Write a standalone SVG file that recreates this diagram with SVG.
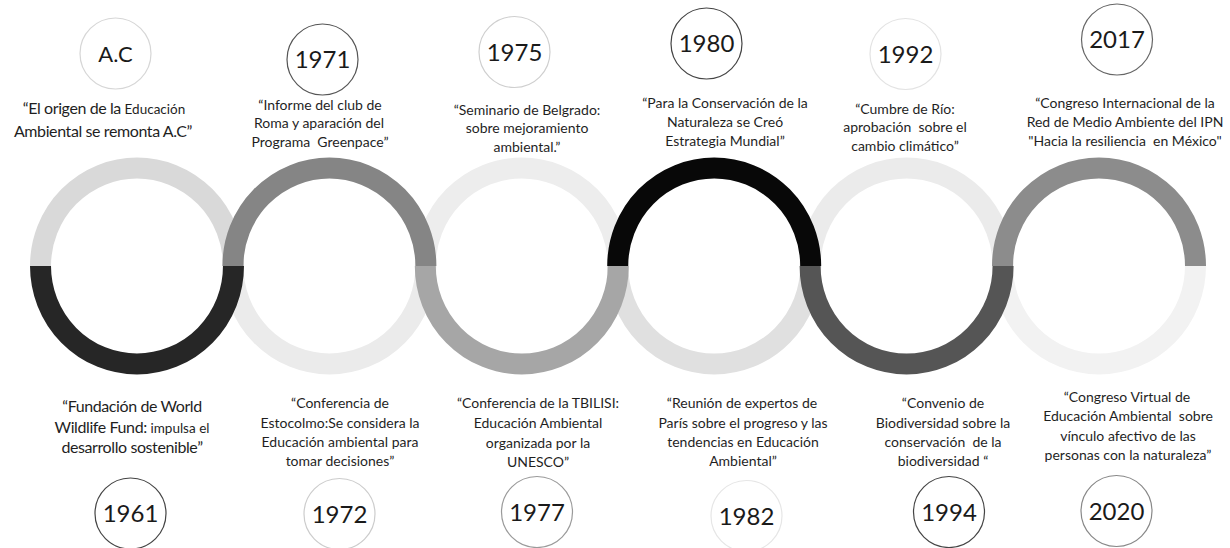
<svg xmlns="http://www.w3.org/2000/svg" width="1230" height="548" viewBox="0 0 1230 548">
<style>
.bg{fill:#ffffff}
.ring{fill:none;stroke-width:21;stroke-linecap:butt}
.dc{fill:#ffffff;stroke-width:1.2}
text{white-space:pre}
.yr{font-family:Lato,"Liberation Sans",sans-serif;font-size:24px;fill:#1a1a1a;text-anchor:middle}
.ac{font-size:22px}
.ds{font-family:Lato,"Liberation Sans",sans-serif;font-size:14px;fill:#1f1f1f;text-anchor:middle}
.dl{font-family:Lato,"Liberation Sans",sans-serif;font-size:16px;fill:#1f1f1f;text-anchor:middle;letter-spacing:-0.4px}
.sm{font-size:13.5px;letter-spacing:0}
</style>
<rect class="bg" x="0" y="0" width="1230" height="548"/>
<g id="connectors">
  <path class="ring" stroke="#d9d9d9" d="M40.5,266 A96.5,98 0 0 1 233.5,266"/>
  <path class="ring" stroke="#ebebeb" d="M232.9,266 A96.5,98 0 0 0 425.9,266"/>
  <path class="ring" stroke="#ededed" d="M425.3,266 A96.5,98 0 0 1 618.3,266"/>
  <path class="ring" stroke="#e0e0e0" d="M617.7,266 A96.5,98 0 0 0 810.7,266"/>
  <path class="ring" stroke="#ebebeb" d="M810.1,266 A96.5,98 0 0 1 1003.1,266"/>
  <path class="ring" stroke="#f2f2f2" d="M1002.5,266 A96.5,98 0 0 0 1195.5,266"/>
  <path class="ring" stroke="#262626" d="M40.5,266 A96.5,98 0 0 0 233.5,266"/>
  <path class="ring" stroke="#858585" d="M232.9,266 A96.5,98 0 0 1 425.9,266"/>
  <path class="ring" stroke="#a6a6a6" d="M425.3,266 A96.5,98 0 0 0 618.3,266"/>
  <path class="ring" stroke="#080808" d="M617.7,266 A96.5,98 0 0 1 810.7,266"/>
  <path class="ring" stroke="#555555" d="M810.1,266 A96.5,98 0 0 0 1003.1,266"/>
  <path class="ring" stroke="#8c8c8c" d="M1002.5,266 A96.5,98 0 0 1 1195.5,266"/>
</g>
<g id="node-ac">
  <circle class="dc" cx="115.5" cy="53.5" r="35.5" stroke="#d6d6d6"/>
  <text class="yr ac" x="115.5" y="61.5">A.C</text>
  <text class="dl" x="104" y="114">“El origen de la <tspan class="sm">Educación</tspan></text>
  <text class="dl" x="103" y="137">Ambiental se remonta A.C”</text>
</g>
<g id="node-1971">
  <circle class="dc" cx="322.5" cy="59.5" r="35.5" stroke="#555555"/>
  <text class="yr" x="322.5" y="68">1971</text>
  <text class="ds" x="320" y="110">“Informe del club de</text>
  <text class="ds" x="319" y="128">Roma y aparación del</text>
  <text class="ds" x="320" y="147">Programa  Greenpace”</text>
</g>
<g id="node-1975">
  <circle class="dc" cx="514.5" cy="52" r="35.5" stroke="#cfcfcf"/>
  <text class="yr" x="514.5" y="60.5">1975</text>
  <text class="ds" x="527" y="115">“Seminario de Belgrado:</text>
  <text class="ds" x="527" y="133">sobre mejoramiento</text>
  <text class="ds" x="527" y="152">ambiental.”</text>
</g>
<g id="node-1980">
  <circle class="dc" cx="706.5" cy="43.5" r="35.5" stroke="#444444"/>
  <text class="yr" x="706.5" y="52">1980</text>
  <text class="ds" x="725" y="108">“Para la Conservación de la</text>
  <text class="ds" x="725" y="127">Naturaleza se Creó</text>
  <text class="ds" x="725" y="146">Estrategia Mundial”</text>
</g>
<g id="node-1992">
  <circle class="dc" cx="905.5" cy="54" r="35.5" stroke="#e3e3e3"/>
  <text class="yr" x="905.5" y="62.5">1992</text>
  <text class="ds" x="905" y="114">“Cumbre de Río:</text>
  <text class="ds" x="905" y="132">aprobación  sobre el</text>
  <text class="ds" x="905" y="151">cambio climático”</text>
</g>
<g id="node-2017">
  <circle class="dc" cx="1117" cy="39.5" r="35.5" stroke="#666666"/>
  <text class="yr" x="1117" y="48">2017</text>
  <text class="ds" x="1125" y="108">“Congreso Internacional de la</text>
  <text class="ds" x="1125" y="127">Red de Medio Ambiente del IPN</text>
  <text class="ds" x="1125" y="146">"Hacia la resiliencia  en México"</text>
</g>
<g id="node-1961">
  <circle class="dc" cx="130.5" cy="513.5" r="35.5" stroke="#444444"/>
  <text class="yr" x="130.5" y="522">1961</text>
  <text class="dl" x="132" y="412">“Fundación de World</text>
  <text class="dl" x="132" y="433">Wildlife Fund: <tspan class="sm">impulsa el</tspan></text>
  <text class="dl" x="132" y="453">desarrollo sostenible”</text>
</g>
<g id="node-1972">
  <circle class="dc" cx="339.5" cy="514" r="35.5" stroke="#cccccc"/>
  <text class="yr" x="339.5" y="522.5">1972</text>
  <text class="ds" x="340" y="408">“Conferencia de</text>
  <text class="ds" x="340" y="428">Estocolmo:Se considera la</text>
  <text class="ds" x="340" y="447">Educación ambiental para</text>
  <text class="ds" x="340" y="466">tomar decisiones”</text>
</g>
<g id="node-1977">
  <circle class="dc" cx="537" cy="512" r="35.5" stroke="#9a9a9a"/>
  <text class="yr" x="537" y="520.5">1977</text>
  <text class="ds" x="538" y="408">“Conferencia de la TBILISI:</text>
  <text class="ds" x="538" y="428">Educación Ambiental</text>
  <text class="ds" x="538" y="448">organizada por la</text>
  <text class="ds" x="538" y="467">UNESCO”</text>
</g>
<g id="node-1982">
  <circle class="dc" cx="746.5" cy="516" r="35.5" stroke="#e6e6e6"/>
  <text class="yr" x="746.5" y="524.5">1982</text>
  <text class="ds" x="742" y="408">“Reunión de expertos de</text>
  <text class="ds" x="743" y="428">París sobre el progreso y las</text>
  <text class="ds" x="743" y="447">tendencias en Educación</text>
  <text class="ds" x="743" y="466">Ambiental”</text>
</g>
<g id="node-1994">
  <circle class="dc" cx="949" cy="512" r="35.5" stroke="#444444"/>
  <text class="yr" x="949" y="520.5">1994</text>
  <text class="ds" x="943" y="408">“Convenio de</text>
  <text class="ds" x="943" y="428">Biodiversidad sobre la</text>
  <text class="ds" x="943" y="447">conservación  de la</text>
  <text class="ds" x="943" y="466">biodiversidad “</text>
</g>
<g id="node-2020">
  <circle class="dc" cx="1116.5" cy="511" r="35.5" stroke="#888888"/>
  <text class="yr" x="1116.5" y="519.5">2020</text>
  <text class="ds" x="1127" y="402">“Congreso Virtual de</text>
  <text class="ds" x="1128" y="421">Educación Ambiental  sobre</text>
  <text class="ds" x="1128" y="441">vínculo afectivo de las</text>
  <text class="ds" x="1128" y="460">personas con la naturaleza”</text>
</g>
</svg>
